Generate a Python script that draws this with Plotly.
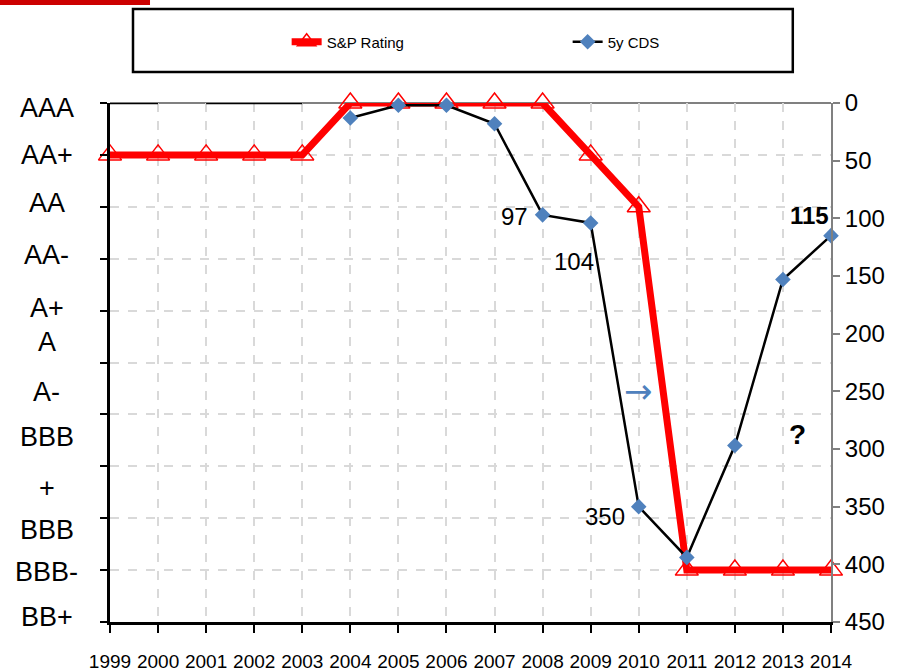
import plotly.graph_objects as go

# ---------------- data ----------------
years = list(range(1999, 2015))
rating_labels = ["AAA", "AA+", "AA", "AA-", "A+", "A", "A-", "BBB", "+", "BBB", "BBB-", "BB+"]
# S&P rating as notch index (0 = AAA, 1 = AA+, ... 9 = BBB-)
sp_rating = [1, 1, 1, 1, 1, 0, 0, 0, 0, 0, 1, 2, 9, 9, 9, 9]
cds_years = list(range(2004, 2015))
cds_values = [13, 2, 2, 18, 97, 104, 350, 394, 297, 153, 115]
early_years = [1999, 2000, None, 2001, 2002, 2003]
early_values = [0, 0, None, 0, 0, 0]
cds_right_ticks = list(range(0, 451, 50))

# ---------------- style ----------------
SANS = "Liberation Sans, Arial, sans-serif"
GRID = "#D9D9D9"
BLUE = "#4F81BD"
# vertical label placement (rating units) for left-axis text
label_pos = [0.09, 1.0, 1.92, 2.92, 3.95, 4.6, 5.57, 6.44, 7.42, 8.23, 9.04, 9.91]

fig = go.Figure()

fig.add_trace(go.Scatter(
    x=early_years, y=early_values, yaxis="y2", mode="lines",
    line=dict(color="black", width=2.5), showlegend=False, hoverinfo="skip",
    cliponaxis=False, connectgaps=False))

fig.add_trace(go.Scatter(
    x=years, y=sp_rating, name="S&P Rating", mode="lines+markers",
    line=dict(color="#FF0000", width=7),
    marker=dict(symbol="triangle-up-open", size=20, color="#FF0000",
                line=dict(color="#FF0000", width=1.5)),
    cliponaxis=False))

fig.add_trace(go.Scatter(
    x=cds_years, y=cds_values, name="5y CDS", yaxis="y2", mode="lines+markers",
    line=dict(color="black", width=2.5),
    marker=dict(symbol="diamond", size=12, color=BLUE),
    cliponaxis=False))

annotations = []
for lab, pos in zip(rating_labels, label_pos):
    annotations.append(dict(
        x=-0.0874, xref="paper", y=pos, yref="y", text=lab, showarrow=False,
        xanchor="center", yanchor="middle",
        font=dict(family=SANS, size=27, color="black")))

def cds_val(year):
    return cds_values[cds_years.index(year)]

annotations += [
    dict(x=2008, y=cds_val(2008), xref="x", yref="y2", text="97", showarrow=False,
         xanchor="right", yanchor="middle", xshift=-13, yshift=-2,
         font=dict(family=SANS, size=24, color="black")),
    dict(x=2009, y=cds_val(2009), xref="x", yref="y2", text="104", showarrow=False,
         xanchor="center", yanchor="middle", xshift=-17, yshift=-39,
         font=dict(family=SANS, size=24, color="black")),
    dict(x=2010, y=cds_val(2010), xref="x", yref="y2", text="350", showarrow=False,
         xanchor="right", yanchor="middle", xshift=-12, yshift=-10,
         font=dict(family=SANS, size=24, color="black")),
    dict(x=2014, y=cds_val(2014), xref="x", yref="y2", text="<b>115</b>", showarrow=False,
         xanchor="right", yanchor="middle", xshift=0, yshift=20,
         font=dict(family=SANS, size=24, color="black")),
    dict(x=2013.31, y=287, xref="x", yref="y2", text="<b>?</b>", showarrow=False,
         xanchor="center", yanchor="middle",
         font=dict(family=SANS, size=28, color="black")),
    dict(x=2010.0, y=250, xref="x", yref="y2", text="→", showarrow=False,
         xanchor="center", yanchor="middle",
         font=dict(family="DejaVu Sans, sans-serif", size=34, color=BLUE)),
]

shapes = [
    # top frame (gray)
    dict(type="line", xref="paper", yref="paper", x0=0, x1=1, y0=1, y1=1,
         line=dict(color="#808080", width=2), layer="below"),
    # legend box
    dict(type="rect", xref="paper", yref="paper", x0=0.0319, x1=0.947, y0=1.0597, y1=1.181,
         line=dict(color="black", width=2.5), fillcolor="white", layer="below"),
    # red corner bar
    dict(type="rect", xref="paper", yref="paper", x0=-0.1526, x1=0.0555, y0=1.1888, y1=1.2,
         line=dict(width=0), fillcolor="#CC0000"),
]

fig.update_layout(
    width=910, height=671,
    margin=dict(l=110, r=79, t=103, b=49, autoexpand=False),
    paper_bgcolor="white", plot_bgcolor="white",
    showlegend=True,
    legend=dict(orientation="h", x=0.245, y=1.1175, xanchor="left", yanchor="middle",
                entrywidth=236, entrywidthmode="pixels", bgcolor="rgba(0,0,0,0)",
                font=dict(family=SANS, size=15, color="black")),
    xaxis=dict(range=[1999, 2014], tickvals=years, ticktext=[str(y) for y in years],
               tickangle=0, automargin=False, ticklabelstandoff=12,
               showline=True, linecolor="black", linewidth=3,
               ticks="outside", ticklen=8, tickwidth=2, tickcolor="black",
               showgrid=True, gridcolor=GRID, griddash="dash", gridwidth=1.5,
               zeroline=False, tickfont=dict(family=SANS, size=19, color="black")),
    yaxis=dict(range=[10, 0], tickvals=list(range(11)), showticklabels=False,
               automargin=False,
               showline=True, linecolor="black", linewidth=2.5,
               ticks="outside", ticklen=7, tickwidth=2, tickcolor="black",
               showgrid=True, gridcolor=GRID, griddash="dash", gridwidth=1.5,
               zeroline=False),
    yaxis2=dict(range=[450, 0], overlaying="y", side="right", tickvals=cds_right_ticks,
                automargin=False,
                showline=True, linecolor="#808080", linewidth=2,
                ticks="outside", ticklen=7, tickwidth=1.5, tickcolor="#808080",
                showgrid=False, zeroline=False,
                tickfont=dict(family=SANS, size=24, color="black")),
    annotations=annotations,
    shapes=shapes,
)

fig.write_html("out.html", config={"displayModeBar": False},
               post_script="document.body.style.margin='0';document.body.style.padding='0';")
